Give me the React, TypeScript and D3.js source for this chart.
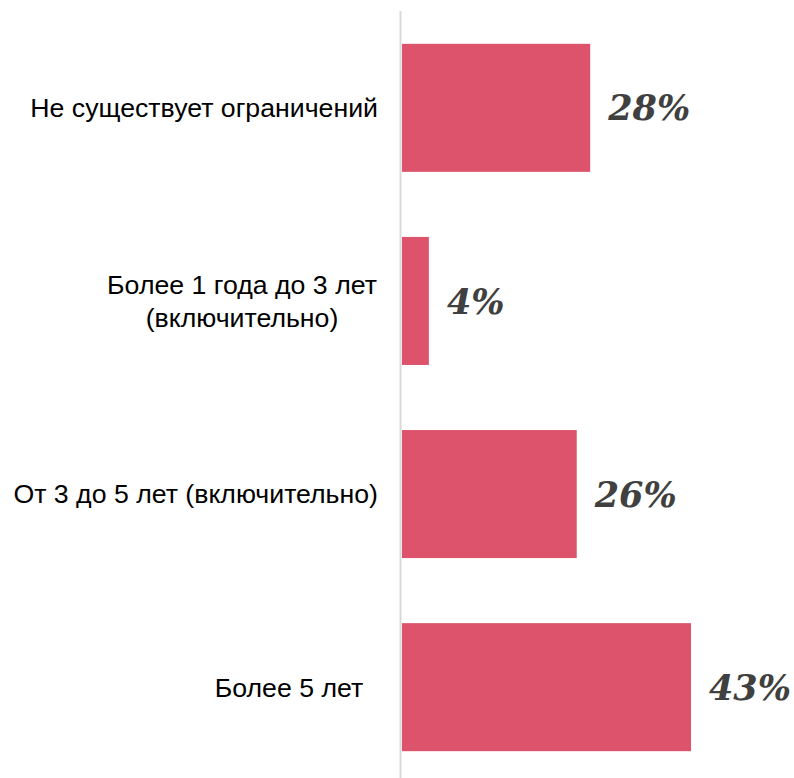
import React from 'react'
import { scaleBand, scaleLinear } from 'd3'

const categories = [
  ['Не существует ограничений'],
  ['Более 1 года до 3 лет', '(включительно)'],
  ['От 3 до 5 лет (включительно)'],
  ['Более 5 лет  '],
]
const values = [28, 4, 26, 43]
const valueLabels = ['28%', '4%', '26%', '43%']

const width = 794
const height = 778

const App = () => {
  const ids = categories.map((_, i) => String(i))
  const y = scaleBand().domain(ids).range([11, 784]).paddingInner(0.337).paddingOuter(0.17)
  const x = scaleLinear().domain([0, 43]).range([402, 691])
  const labelRight = 378
  const lineH = 33
  const labelFont = 26.7

  return (
    <svg
      width={width}
      height={height}
      style={{ position: 'absolute', left: 0, top: 0, display: 'block', background: '#fff' }}
    >
      {ids.map((id, i) => {
        const cy = y(id) + y.bandwidth() / 2
        const lines = categories[i]
        const y0 = cy - ((lines.length - 1) * lineH) / 2
        return (
          <g key={id}>
            <rect x={x(0)} y={y(id)} width={x(values[i]) - x(0)} height={y.bandwidth()} fill='#dc536b' />
            <text
              x={x(values[i]) + 18}
              y={cy}
              dy='0.36em'
              fontFamily='DejaVu Serif'
              fontWeight='bold'
              fontStyle='italic'
              fontSize={35}
              fill='#404040'
            >
              {valueLabels[i]}
            </text>
            {lines.length === 1 ? (
              <text
                x={labelRight}
                y={cy}
                dy='0.35em'
                textAnchor='end'
                fontFamily='Liberation Sans, Arial, sans-serif'
                fontSize={labelFont}
                fill='#000'
                style={{ whiteSpace: 'pre' }}
              >
                {lines[0]}
              </text>
            ) : (
              <text
                x={242}
                y={y0}
                textAnchor='middle'
                fontFamily='Liberation Sans, Arial, sans-serif'
                fontSize={labelFont}
                fill='#000'
              >
                {lines.map((l, j) => (
                  <tspan key={j} x={242} y={y0 + j * lineH} dy='0.35em'>
                    {l}
                  </tspan>
                ))}
              </text>
            )}
          </g>
        )
      })}
      <line x1={400.5} x2={400.5} y1={11} y2={height} stroke='#d9d9d9' strokeWidth={2} />
    </svg>
  )
}

export default App
